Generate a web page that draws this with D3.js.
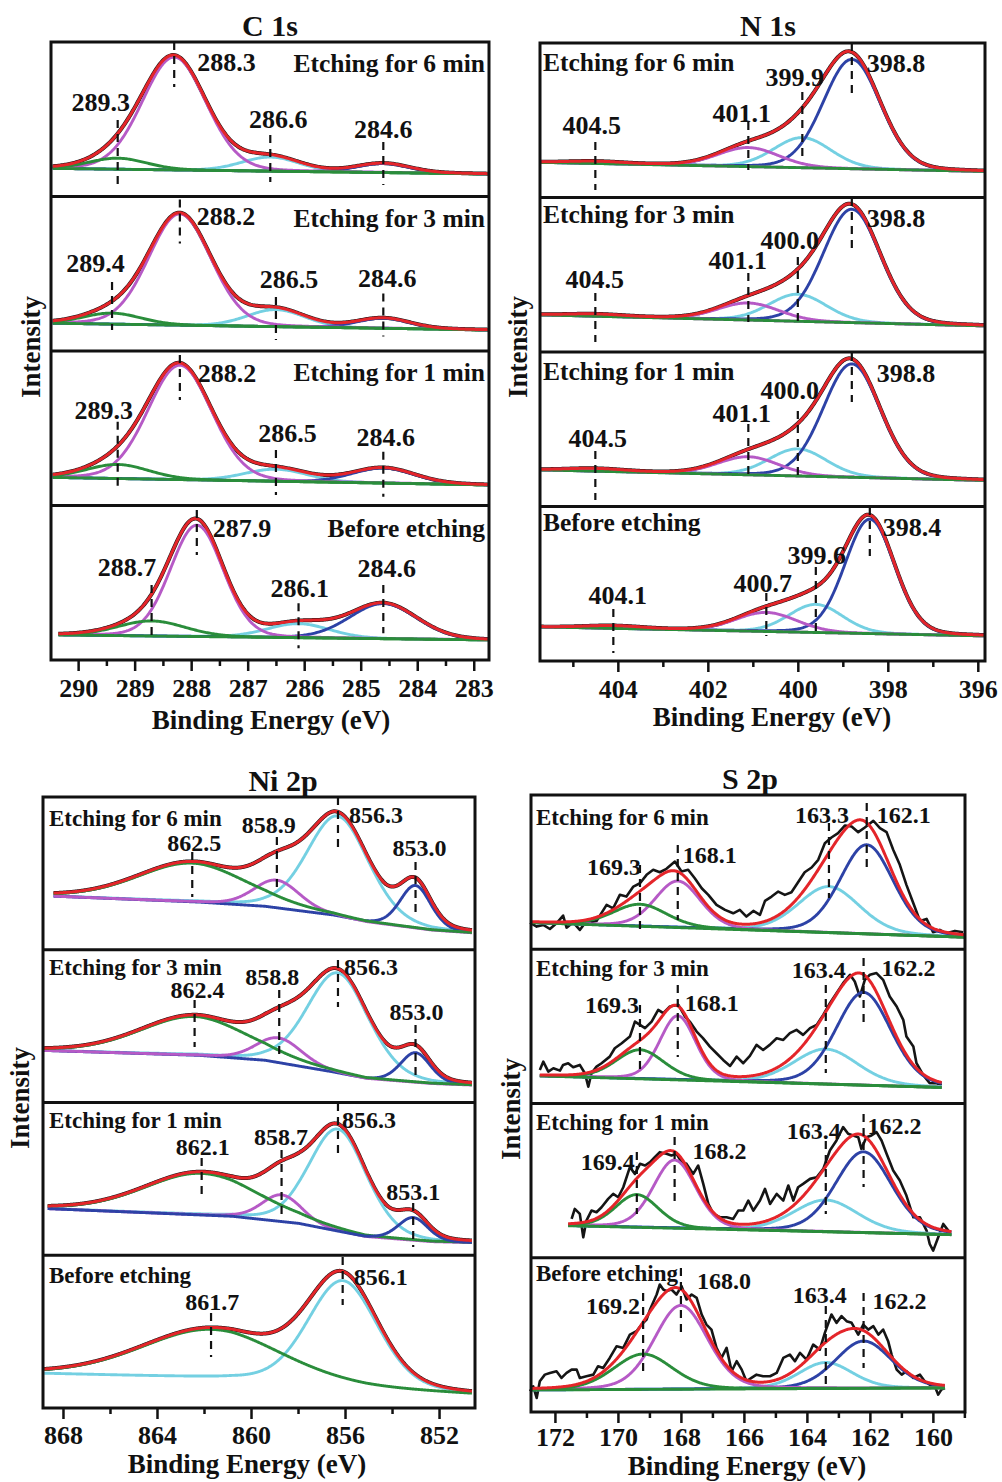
<!DOCTYPE html>
<html>
<head>
<meta charset="utf-8">
<script src="https://cdn.jsdelivr.net/npm/d3@7"></script>
<style>
body { margin: 0; background: #fff; }
text { font-family: "Liberation Serif", "Times New Roman", serif; font-weight: bold; fill: #111; }
</style>
</head>
<body>
<svg id="fig" width="1002" height="1482"></svg>
<script>
// ---------- data ----------
var sampleNames = ["Etching for 6 min", "Etching for 3 min", "Etching for 1 min", "Before etching"];

// C 1s : peak centre (eV), height (a.u.), FWHM (eV), linear background, scan range
var c1sCenters = [[289.3, 288.3, 286.6, 284.6], [289.4, 288.2, 286.5, 284.6], [289.3, 288.2, 286.5, 284.6], [288.7, 287.9, 286.1, 284.6]];
var c1sHeights = [[11, 112.5, 14, 9], [11, 111, 17, 10], [14, 114, 12, 15], [15, 111, 14, 35]];
var c1sWidths = [[1.2, 1.33, 1.2, 1.1], [1.2, 1.3, 1.2, 1.1], [1.3, 1.33, 1.3, 1.3], [1.4, 1.1, 1.3, 1.4]];
var c1sBackground = [[[290.45, 28], [282.75, 22.5]], [[290.45, 27.7], [282.75, 21]], [[290.45, 28], [282.75, 20.5]], [[290.35, 25], [282.75, 20]]];
var c1sScan = [[290.45, 282.75], [290.45, 282.75], [290.45, 282.75], [290.35, 282.75]];
var c1sTicks = [290, 289, 288, 287, 286, 285, 284, 283];
var c1sMinor = [289.5, 288.5, 287.5, 286.5, 285.5, 284.5, 283.5];

// N 1s
var n1sCenters = [[404.5, 401.1, 399.9, 398.8], [404.5, 401.1, 400.0, 398.8], [404.5, 401.1, 400.0, 398.8], [404.1, 400.7, 399.6, 398.4]];
var n1sHeights = [[2, 19, 30, 109], [2, 17, 27, 113], [2.5, 18, 27, 113], [2.5, 19, 28, 114]];
var n1sWidths = [[1.5, 1.6, 1.5, 1.5], [1.5, 1.6, 1.5, 1.5], [1.5, 1.6, 1.5, 1.5], [1.5, 1.6, 1.4, 1.3]];
var n1sBackground = [[[405.73, 35], [395.84, 26]], [[405.73, 37], [395.84, 26]], [[405.73, 36.5], [395.84, 26]], [[405.73, 34], [395.84, 25]]];
var n1sScan = [[405.73, 395.84], [405.73, 395.84], [405.73, 395.84], [405.73, 395.84]];
var n1sTicks = [404, 402, 400, 398, 396];
var n1sMinor = [405, 403, 401, 399, 397];

// Ni 2p (Shirley-type background given as knots)
var ni2pCenters = [[862.5, 858.9, 856.3, 853.0], [862.4, 858.8, 856.3, 853.0], [862.1, 858.7, 856.3, 853.1], [861.7, 856.1]];
var ni2pHeights = [[39, 28, 101, 43], [39, 25, 101, 30], [42, 27, 103, 23], [49, 107]];
var ni2pWidths = [[5.5, 2.3, 3.1, 1.55], [5.5, 2.3, 3.1, 1.5], [5.8, 2.0, 2.9, 1.5], [7.0, 3.5]];
var ni2pBackground = [
  [[868.4, 54], [862.2, 48], [859.4, 43.7], [856.5, 34.7], [855.1, 28], [852.3, 19.7], [850.6, 17]],
  [[868.85, 52.5], [862.2, 47.5], [859.4, 42.5], [856.55, 30.8], [855.1, 24], [852.3, 19], [850.6, 17.5]],
  [[868.65, 47], [860.8, 39.25], [857.96, 32], [855.13, 18.6], [852.3, 13.6], [850.6, 12.6]],
  [[868.8, 34.7], [860.8, 29.7], [855.13, 19.7], [850.6, 14]]
];
var ni2pScan = [[868.4, 850.6], [868.85, 850.6], [868.65, 850.6], [868.8, 850.6]];
var ni2pTicks = [868, 864, 860, 856, 852];
var ni2pMinor = [866, 862, 858, 854];

// S 2p
var s2pCenters = [[169.3, 168.1, 163.3, 162.1], [169.3, 168.1, 163.4, 162.2], [169.4, 168.2, 163.4, 162.2], [169.2, 168.0, 163.4, 162.2]];
var s2pHeights = [[22, 46.5, 46, 89], [29, 64, 35, 92.7], [32.7, 68, 31.7, 80.7], [35.3, 83.7, 26, 47.2]];
var s2pWidths = [[2.0, 1.7, 2.3, 2.0], [1.8, 1.35, 2.4, 2.06], [1.6, 1.6, 2.4, 2.1], [2.2, 2.0, 2.0, 2.1]];
var s2pBackground = [[[172.79, 26.6], [158.98, 12]], [[172.48, 27.5], [159.72, 16]], [[171.58, 32], [159.41, 23]], [[172.79, 22], [159.62, 24]]];
var s2pScan = [[172.79, 158.98], [172.48, 159.72], [171.58, 159.41], [172.79, 159.62]];
var s2pTicks = [172, 170, 168, 166, 164, 162, 160];
var s2pMinor = [171, 169, 167, 165, 163, 161, 159];

// S 2p measured spectra [eV, a.u.]
var s2pRaw6 = [[172.79,26.6],[172.58,22.6],[172.37,24.3],[172.16,20.2],[171.95,25.9],[171.74,33.6],[171.63,21.6],[171.42,26.9],[171.21,19.3],[171.05,25.9],[170.68,28.2],[170.36,44.3],[170.15,40.9],[169.94,54.3],[169.73,52.6],[169.51,62.6],[169.30,65.9],[169.09,74.3],[168.88,79.3],[168.67,76.9],[168.46,80.3],[168.19,87.6],[167.98,77.6],[167.77,79.3],[167.56,70.9],[167.34,60.9],[167.13,54.3],[166.87,44.3],[166.60,39.3],[166.34,35.9],[166.13,39.3],[165.92,32.6],[165.70,38.3],[165.49,34.3],[165.33,48.3],[165.12,52.6],[164.91,57.6],[164.70,54.3],[164.49,56.9],[164.28,66.9],[164.07,76.9],[163.85,81.6],[163.64,89.3],[163.43,105.9],[163.22,111.6],[163.01,115.9],[162.79,123.6],[162.58,122.6],[162.37,116.9],[162.16,121.6],[161.89,128.3],[161.68,120.9],[161.47,116.9],[161.26,99.3],[161.05,84.3],[160.84,64.3],[160.62,45.9],[160.41,28.3],[160.20,30.3],[159.99,16.9],[159.78,19.3],[159.57,15.9],[159.30,18.3],[159.04,16.9]];
var s2pRaw3 = [[172.48,33.5],[172.37,41.8],[172.21,31.8],[172.05,35.2],[171.84,32.8],[171.74,38.5],[171.58,40.2],[171.42,36.2],[171.21,38.5],[171.05,30.2],[170.94,16.8],[170.84,30.2],[170.68,36.8],[170.52,40.2],[170.26,46.8],[170.10,55.2],[169.88,60.2],[169.62,66.8],[169.46,81.8],[169.30,78.5],[169.14,75.2],[168.93,81.8],[168.72,93.5],[168.56,90.2],[168.35,96.8],[168.08,98.5],[167.87,86.8],[167.72,81.8],[167.50,71.8],[167.30,65.2],[167.08,56.8],[166.87,50.2],[166.66,43.5],[166.44,37.5],[166.23,46.8],[166.02,40.2],[165.81,47.5],[165.60,58.5],[165.39,53.5],[165.18,58.5],[164.96,65.2],[164.75,63.5],[164.54,70.2],[164.33,73.5],[164.12,68.5],[163.90,75.2],[163.69,78.5],[163.48,88.5],[163.27,100.2],[163.06,110.2],[162.85,120.2],[162.63,128.5],[162.48,121.8],[162.32,106.8],[162.16,123.5],[162.00,128.5],[161.79,130.2],[161.58,123.5],[161.37,106.8],[161.15,96.8],[160.94,83.5],[160.84,66.8],[160.62,56.8],[160.52,40.2],[160.31,28.5],[160.10,20.2],[159.88,20.2],[159.72,18.5]];
var s2pRaw1 = [[171.47,38.75],[171.37,48.75],[171.21,43.75],[171.10,20.4],[171.00,37.1],[170.84,47.1],[170.68,45.4],[170.52,50.4],[170.31,58.75],[170.15,63.75],[169.99,60.4],[169.83,70.4],[169.62,90.4],[169.46,83.75],[169.30,93.75],[169.14,92.1],[168.98,95.4],[168.83,100.4],[168.67,105.4],[168.46,103.75],[168.30,102.1],[168.14,103.75],[167.98,95.4],[167.82,93.75],[167.61,83.75],[167.45,92.1],[167.29,73.75],[167.13,53.75],[166.97,43.75],[166.76,40.4],[166.55,40.4],[166.34,38.75],[166.18,47.1],[166.02,47.1],[165.86,57.1],[165.70,47.1],[165.49,57.1],[165.33,68.75],[165.17,53.75],[164.96,63.75],[164.75,57.1],[164.59,72.1],[164.43,57.1],[164.28,70.4],[164.12,73.75],[163.90,78.75],[163.69,80.4],[163.48,88.75],[163.27,107.1],[163.06,117.1],[162.85,130.4],[162.69,123.75],[162.53,122.1],[162.37,120.4],[162.27,108.75],[162.11,120.4],[161.95,122.1],[161.79,125.4],[161.63,117.1],[161.47,103.75],[161.26,87.1],[161.05,77.1],[160.84,62.1],[160.62,40.4],[160.41,40.4],[160.20,27.1],[160.10,13.75],[159.99,7.1],[159.83,20.4],[159.67,33.75],[159.51,27.1]];
var s2pRaw0 = [[172.79,20.7],[172.69,25.7],[172.58,14],[172.48,30.7],[172.32,37.3],[172.16,39],[171.95,40.7],[171.79,34],[171.63,39],[171.47,42.3],[171.31,42.3],[171.21,34],[171.00,35.7],[170.78,37.3],[170.63,45.7],[170.47,44],[170.26,54],[170.04,65.7],[169.83,64],[169.62,77.3],[169.41,80.7],[169.25,87.3],[169.09,92.3],[168.98,102.3],[168.77,117.3],[168.67,127.3],[168.56,122.3],[168.46,120.7],[168.30,122.3],[168.14,117.3],[167.98,125.7],[167.82,112.3],[167.66,117.3],[167.50,114],[167.34,97.3],[167.19,87.3],[167.03,82.3],[166.87,64],[166.71,54],[166.55,64],[166.39,40.7],[166.23,50.7],[166.07,42.3],[165.92,30.7],[165.76,34],[165.60,37.3],[165.39,35.7],[165.17,35.7],[164.96,39],[164.75,54],[164.54,57.3],[164.38,50.7],[164.22,59],[164.01,52.3],[163.80,67.3],[163.59,62.3],[163.43,79],[163.22,97.3],[163.06,89],[162.90,95.7],[162.74,90.7],[162.58,89],[162.37,77.3],[162.21,87.3],[162.05,82.3],[161.89,85.7],[161.73,77.3],[161.58,82.3],[161.42,70.7],[161.31,57.3],[161.15,42.3],[160.99,37.3],[160.84,40.7],[160.62,34],[160.41,37.3],[160.26,30.7],[160.10,27.3],[159.94,25.7],[159.83,17.3],[159.73,22.3],[159.62,24]];

// Lorentzian share of the pseudo-Voigt line shape used in the fits
var c1sMix = 0.1, n1sMix = 0.1, ni2pMix = 0.2, s2pMix = 0.2;

// ---------- layout (label offsets: [dx from peak, y from sub-panel top, anchor]) ----------
var c1sLabelPos = [
  [[-17, 60, "middle"], [23, 20, "start"], [8, 77, "middle"], [0, 87, "middle"]],
  [[-16.5, 66.5, "middle"], [17, 19.5, "start"], [13, 82.5, "middle"], [4, 81.5, "middle"]],
  [[-14, 59, "middle"], [18, 22.3, "start"], [11.5, 82.3, "middle"], [2.5, 85.7, "middle"]],
  [[-24.6, 61.2, "middle"], [16, 22.8, "start"], [1.3, 82.8, "middle"], [3.4, 62, "middle"]]
];
var c1sDash = [
  [[78, 143], [0, 45], [93, 140], [100, 143]],
  [[85.5, 133.5], [3, 47], [100.5, 143.5], [97, 140]],
  [[70.7, 139], [4, 49], [99, 144], [100.7, 145.7]],
  [[79.5, 131.2], [4.5, 49.5], [97.8, 142.8], [79.5, 127.8]]
];
var n1sLabelPos = [
  [[-3.5, 82, "middle"], [-6.5, 70, "middle"], [-7.5, 34, "middle"], [15, 20, "start"]],
  [[-0.5, 81.5, "middle"], [-10.5, 62.5, "middle"], [-8, 42.5, "middle"], [15, 20.5, "start"]],
  [[2.5, 86, "middle"], [-6.5, 61, "middle"], [-8, 38, "middle"], [25, 21, "start"]],
  [[4.5, 88.5, "middle"], [-3.5, 76.5, "middle"], [1, 48.5, "middle"], [13, 20.5, "start"]]
];
var n1sDash = [
  [[99, 147], [79, 127], [49, 117], [0, 54]],
  [[95.5, 144.5], [75.5, 124.5], [59.5, 127.5], [0.5, 50.5]],
  [[99, 148], [72, 122], [59, 128], [1, 50]],
  [[102.5, 146.5], [86.5, 129.5], [60.5, 129.5], [0.5, 49.5]]
];
var ni2pLabelPos = [
  [[2, 46, "middle"], [-8, 28, "middle"], [11, 18, "start"], [4, 51, "middle"]],
  [[3, 40.25, "middle"], [-7, 27.25, "middle"], [6, 17.25, "start"], [1, 62.25, "middle"]],
  [[1, 44.5, "middle"], [-0.5, 34.5, "middle"], [4, 17.5, "start"], [0, 89.5, "middle"]],
  [[1.3, 46.75, "middle"], [11, 21.75, "start"]]
];
var ni2pDash = [
  [[55, 100], [40, 93], [0, 53], [65, 115]],
  [[50.25, 97.25], [40.25, 107.25], [10.25, 57.25], [75.25, 125.25]],
  [[55.5, 97.5], [47.5, 114.5], [0.5, 50.5], [100.5, 144.5]],
  [[57.75, 101.75], [1.75, 49.75]]
];
var s2pLabelPos = [
  [[-26, 72, "middle"], [5, 60, "start"], [-7, 20, "middle"], [10, 20, "start"]],
  [[-28, 55.75, "middle"], [7, 53.75, "start"], [-7, 20.75, "middle"], [18, 18.75, "start"]],
  [[-29, 58.5, "middle"], [18, 47.5, "start"], [-12, 27.5, "middle"], [4, 22.5, "start"]],
  [[-30, 48.25, "middle"], [16, 23.25, "start"], [-6, 37.25, "middle"], [9, 43.25, "start"]]
];
var s2pDash = [
  [[70, 137], [50, 125], [28, 103], [8, 78]],
  [[55.75, 123.75], [35.75, 107.75], [35.75, 123.75], [8.75, 78.75]],
  [[48.5, 110.5], [33.5, 100.5], [37.5, 110.5], [10.5, 83.5]],
  [[35.25, 117.25], [10.25, 77.25], [48.25, 130.25], [35.25, 110.25]]
];

var colors = { red: "#e4252a", magenta: "#b65ac6", green: "#2a8d3b", cyan: "#74d0e2", blue: "#2d42a6", black: "#151515" };
var zStd = ["cyan", "blue", "magenta", "green"];

var panels = [
  { title: "C 1s", tx: 270, ty: 25, x0: 51, x1: 489, y0: 42, y1: 660, dom: [290.48, 282.73],
    ticks: c1sTicks, minor: c1sMinor, tickY: 28, axisX: 271, axisY: 720, intX: 31, intY: 347,
    centers: c1sCenters, heights: c1sHeights, widths: c1sWidths, bg: c1sBackground, scan: c1sScan, mix: c1sMix,
    cols: [["green", "magenta", "cyan", "blue"]], z: [zStd], bgTop: true,
    labelPos: c1sLabelPos, dash: c1sDash, nameX: 485, nameAnchor: "end", nameY: [21, 21.5, 20.7, 22.8],
    numSize: 26, nameSize: 25.5 },
  { title: "N 1s", tx: 768, ty: 25, x0: 540, x1: 985, y0: 43, y1: 661, dom: [405.73, 395.84],
    ticks: n1sTicks, minor: n1sMinor, tickY: 28, axisX: 772, axisY: 717, intX: 518, intY: 347,
    centers: n1sCenters, heights: n1sHeights, widths: n1sWidths, bg: n1sBackground, scan: n1sScan, mix: n1sMix,
    cols: [["magenta", "magenta", "cyan", "blue"]], z: [zStd], bgTop: true,
    labelPos: n1sLabelPos, dash: n1sDash, nameX: 543, nameAnchor: "start", nameY: [19, 16.5, 19, 15.5],
    numSize: 26, nameSize: 25.5 },
  { title: "Ni 2p", tx: 283, ty: 780, x0: 43, x1: 475, y0: 797, y1: 1408, dom: [868.85, 850.47],
    ticks: ni2pTicks, minor: ni2pMinor, tickY: 27, axisX: 247, axisY: 1464, intX: 20, intY: 1098,
    centers: ni2pCenters, heights: ni2pHeights, widths: ni2pWidths, bg: ni2pBackground, scan: ni2pScan, mix: ni2pMix,
    cols: [["green", "magenta", "cyan", "blue"], ["green", "magenta", "cyan", "blue"], ["green", "magenta", "cyan", "blue"], ["green", "cyan"]],
    z: [zStd, zStd, ["cyan", "magenta", "green", "blue"], ["cyan", "green"]], bgTop: false,
    labelPos: ni2pLabelPos, dash: ni2pDash, nameX: 49, nameAnchor: "start", nameY: [21, 17.25, 17.5, 19.75],
    numSize: 24, nameSize: 23 },
  { title: "S 2p", tx: 750, ty: 778, x0: 531, x1: 965, y0: 795, y1: 1412, dom: [172.76, 158.98],
    ticks: s2pTicks, minor: s2pMinor, tickY: 25, axisX: 747, axisY: 1466, intX: 511, intY: 1109,
    centers: s2pCenters, heights: s2pHeights, widths: s2pWidths, bg: s2pBackground, scan: s2pScan, mix: s2pMix,
    raw: [s2pRaw6, s2pRaw3, s2pRaw1, s2pRaw0],
    cols: [["green", "magenta", "cyan", "blue"]], z: [zStd], bgTop: true,
    labelPos: s2pLabelPos, dash: s2pDash, nameX: 536, nameAnchor: "start", nameY: [22, 18.75, 18.5, 15.25],
    numSize: 24, nameSize: 23 }
];

var svg = d3.select("#fig");
var f1 = d3.format(".1f");

// pseudo-Voigt line shape
function peak(e, c, a, w, m) {
  var t = (e - c) / w;
  return a * ((1 - m) * Math.exp(-4 * Math.LN2 * t * t) + m / (1 + 4 * t * t));
}

panels.forEach(function(p) {
  var x = d3.scaleLinear().domain(p.dom).range([p.x0, p.x1]);
  var h = (p.y1 - p.y0) / 4;

  p.centers.forEach(function(cs, i) {
    var top = p.y0 + i * h, bot = top + h;
    var y = d3.scaleLinear().domain([0, 154]).range([bot, top]);
    var knots = p.bg[i].slice().sort(function(a, b) { return a[0] - b[0]; });
    var bg = d3.scaleLinear().domain(knots.map(function(k) { return k[0]; }))
      .range(knots.map(function(k) { return k[1]; })).clamp(true);
    var es = d3.range(p.scan[i][1], p.scan[i][0], 0.02).concat([p.scan[i][0]]);
    var cols = p.cols[Math.min(i, p.cols.length - 1)];
    var z = p.z[Math.min(i, p.z.length - 1)];
    var line = d3.line().x(function(d) { return x(d[0]); }).y(function(d) { return y(d[1]); });

    var env = es.map(function(e) {
      return [e, bg(e) + d3.sum(cs, function(c, k) { return peak(e, c, p.heights[i][k], p.widths[i][k], p.mix); })];
    });

    var g = svg.append("g");

    // measured spectrum
    if (p.raw) {
      g.append("path").attr("d", line(p.raw[i])).attr("fill", "none")
        .attr("stroke", colors.black).attr("stroke-width", 2.6).attr("stroke-linejoin", "round");
    } else {
      g.append("path").attr("d", line(env)).attr("fill", "none")
        .attr("stroke", colors.black).attr("stroke-width", 4);
    }

    // fitted components
    var idx = cs.map(function(c, k) { return k; });
    idx.sort(function(a, b) { return z.indexOf(cols[a]) - z.indexOf(cols[b]); });
    idx.forEach(function(k) {
      var comp = es.map(function(e) { return [e, bg(e) + peak(e, cs[k], p.heights[i][k], p.widths[i][k], p.mix)]; });
      g.append("path").attr("d", line(comp)).attr("fill", "none")
        .attr("stroke", colors[cols[k]]).attr("stroke-width", 2.9);
    });
    if (p.bgTop) {
      g.append("path").attr("d", line(es.map(function(e) { return [e, bg(e)]; }))).attr("fill", "none")
        .attr("stroke", colors.green).attr("stroke-width", 2.9);
    }

    // envelope
    g.append("path").attr("d", line(env)).attr("fill", "none")
      .attr("stroke", colors.red).attr("stroke-width", 3);

    // peak markers and labels
    cs.forEach(function(c, k) {
      var d = p.dash[i][k], lp = p.labelPos[i][k];
      g.append("line").attr("x1", x(c)).attr("x2", x(c))
        .attr("y1", top + d[0]).attr("y2", top + d[1])
        .attr("stroke", "#111").attr("stroke-width", 2.2).attr("stroke-dasharray", "8,6");
      g.append("text").attr("x", x(c) + lp[0]).attr("y", top + lp[1]).attr("dy", "0.35em")
        .attr("text-anchor", lp[2]).attr("font-size", p.numSize).text(f1(c));
    });

    g.append("text").attr("x", p.nameX).attr("y", top + p.nameY[i]).attr("dy", "0.35em")
      .attr("text-anchor", p.nameAnchor).attr("font-size", p.nameSize).text(sampleNames[i]);
  });

  // frame and dividers
  svg.append("rect").attr("x", p.x0).attr("y", p.y0).attr("width", p.x1 - p.x0).attr("height", p.y1 - p.y0)
    .attr("fill", "none").attr("stroke", "#111").attr("stroke-width", 3);
  [1, 2, 3].forEach(function(j) {
    svg.append("line").attr("x1", p.x0).attr("x2", p.x1)
      .attr("y1", p.y0 + j * h).attr("y2", p.y0 + j * h)
      .attr("stroke", "#111").attr("stroke-width", 3);
  });

  // x axis
  var gx = svg.append("g").attr("transform", "translate(0," + p.y1 + ")");
  gx.call(d3.axisBottom(x).tickValues(p.ticks).tickSize(11).tickFormat(d3.format("d")));
  gx.append("g").call(d3.axisBottom(x).tickValues(p.minor).tickSize(6).tickFormat(""));
  gx.selectAll(".domain").remove();
  gx.attr("font-family", null).attr("font-size", null);
  gx.selectAll("g").attr("font-family", null).attr("font-size", null);
  gx.selectAll("line").attr("stroke", "#111").attr("stroke-width", 2.5);
  gx.selectAll("text").attr("y", p.tickY).attr("dy", "0.35em").attr("font-size", 26).attr("fill", "#111");

  svg.append("text").attr("x", p.axisX).attr("y", p.axisY).attr("dy", "0.35em")
    .attr("text-anchor", "middle").attr("font-size", 27).text("Binding Energy (eV)");
  svg.append("text").attr("transform", "translate(" + p.intX + "," + p.intY + ") rotate(-90)")
    .attr("dy", "0.35em").attr("text-anchor", "middle").attr("font-size", 27).text("Intensity");
  svg.append("text").attr("x", p.tx).attr("y", p.ty).attr("dy", "0.35em")
    .attr("text-anchor", "middle").attr("font-size", 30).text(p.title);
});
</script>
</body>
</html>
